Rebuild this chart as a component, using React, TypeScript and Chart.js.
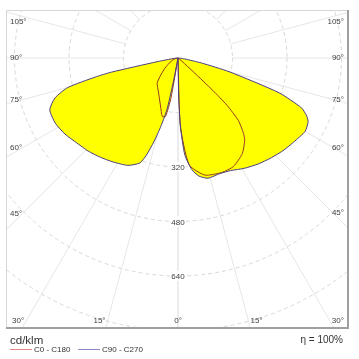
import React, { useEffect, useRef } from 'react';
import { Chart, registerables } from 'chart.js';

Chart.register(...registerables);

// ---- Data (gamma angle in degrees from nadir, luminous intensity in cd/klm) ----
// C0 - C180 plane
const C180_GAMMA = [0, 8, 10, 12, 15, 20, 30, 40, 50, 60, 70, 80, 90];
const C180_CD = [0, 0, 120, 175, 178, 150, 115, 95, 55, 30, 15, 5, 0];
const C0_GAMMA = [0, 2, 6, 13, 21, 27, 34, 39, 41, 44, 46, 47, 48, 50, 55, 60, 70, 90];
const C0_CD = [0, 200, 316, 353, 360, 358, 338, 311, 293, 255, 200, 140, 60, 15, 3, 0, 0, 0];
// C90 - C270 plane
const C270_GAMMA = [0, 10, 11, 12, 14, 16, 18, 20, 25, 32, 38, 44, 50, 56, 62, 68, 72, 75, 77, 78, 80, 85, 90];
const C270_CD = [0, 0, 60, 150, 205, 255, 300, 328, 348, 360, 370, 380, 388, 400, 408, 406, 380, 335, 250, 200, 60, 10, 0];
const C90_GAMMA = [0, 1, 2, 4, 7, 10, 14, 20, 25, 31, 37, 43, 49, 54, 60, 64, 66, 68, 71, 75, 78, 82, 86, 90];
const C90_CD = [0, 120, 200, 285, 330, 352, 364, 361, 365, 378, 390, 401, 412, 420, 431, 425, 412, 391, 314, 155, 70, 20, 5, 0];

const SERIES_NAMES = ['C0 - C180', 'C90 - C270'];
const RING_VALUES = [160, 320, 480, 640, 800, 960];
const LABELLED_RINGS = [320, 480, 640];
const ANGLE_TICKS = [0, 15, 30, 45, 60, 75, 90, 105];
const RADIAL_ANGLES = [0, 15, 30, 45, 60, 75, 90, 105, 120, 135, 150, 165, 180];
const UNIT_LABEL = 'cd/klm';
const EFFICIENCY_LABEL = '\u03B7 = 100%';

// visible window of the diagram (cd/klm, origin = luminaire)
const X_MIN = -505;
const X_MAX = 502;
const Y_MIN = -796;
const Y_MAX = 141;

const FONT = '"Liberation Sans", Arial, sans-serif';
const FILL = '#ffff00';
const LINE_C0 = '#9c3b22';
const LINE_C90 = '#4b3f7f';
const LEGEND_C0 = '#e58a8a';
const LEGEND_C90 = '#8a8ac8';

const rad = (d: number) => (d * Math.PI) / 180;

function buildCurve(leftG: number[], leftI: number[], rightG: number[], rightI: number[]) {
  const pts: { x: number; y: number }[] = [];
  for (let i = leftG.length - 1; i >= 0; i--) {
    const g = rad(leftG[i]);
    pts.push({ x: -leftI[i] * Math.sin(g), y: -leftI[i] * Math.cos(g) });
  }
  for (let i = 0; i < rightG.length; i++) {
    const g = rad(rightG[i]);
    pts.push({ x: rightI[i] * Math.sin(g), y: -rightI[i] * Math.cos(g) });
  }
  return pts;
}

const gridPlugin = {
  id: 'photometricGrid',
  beforeDraw(chart: any) {
    const { ctx, chartArea: a, scales } = chart;
    const xs = scales.x;
    const ys = scales.y;
    const cx = xs.getPixelForValue(0);
    const cy = ys.getPixelForValue(0);
    const unit = xs.getPixelForValue(1000) - cx; // px per 1000 cd
    ctx.save();
    ctx.fillStyle = '#ffffff';
    ctx.fillRect(0, 0, chart.width, chart.height);
    ctx.beginPath();
    ctx.rect(a.left, a.top, a.right - a.left, a.bottom - a.top);
    ctx.clip();
    // radial lines
    ctx.strokeStyle = '#e6e6e6';
    ctx.lineWidth = 1;
    ctx.setLineDash([]);
    const r0 = (RING_VALUES[0] * unit) / 1000;
    for (const ang of RADIAL_ANGLES) {
      for (const s of [-1, 1]) {
        const sx = s * Math.sin(rad(ang));
        const sy = Math.cos(rad(ang));
        ctx.beginPath();
        ctx.moveTo(cx + sx * r0, cy + sy * r0);
        ctx.lineTo(cx + sx * 1000, cy + sy * 1000);
        ctx.stroke();
      }
    }
    // rings
    ctx.strokeStyle = '#d9d9d9';
    ctx.setLineDash([4, 3]);
    for (const v of RING_VALUES) {
      ctx.beginPath();
      ctx.arc(cx, cy, (v * unit) / 1000, 0, Math.PI * 2);
      ctx.stroke();
    }
    ctx.setLineDash([]);
    // ring labels
    ctx.font = `8px ${FONT}`;
    ctx.textAlign = 'center';
    ctx.textBaseline = 'middle';
    for (const v of LABELLED_RINGS) {
      const y = ys.getPixelForValue(-v);
      const t = String(v);
      const w = ctx.measureText(t).width;
      ctx.fillStyle = '#ffffff';
      ctx.fillRect(cx - w / 2 - 1, y - 5, w + 2, 10);
      ctx.fillStyle = '#404040';
      ctx.fillText(t, cx, y + 1);
    }
    ctx.restore();
  },
  afterDraw(chart: any) {
    const { ctx, chartArea: a, scales } = chart;
    const cx = scales.x.getPixelForValue(0);
    const cy = scales.y.getPixelForValue(0);
    ctx.save();
    // frame
    ctx.strokeStyle = '#d6d6d6';
    ctx.lineWidth = 1;
    ctx.beginPath();
    ctx.moveTo(a.left + 0.5, a.bottom);
    ctx.lineTo(a.left + 0.5, a.top + 0.5);
    ctx.lineTo(a.right, a.top + 0.5);
    ctx.stroke();
    ctx.strokeStyle = '#a0a0a0';
    ctx.lineWidth = 2;
    ctx.beginPath();
    ctx.moveTo(a.right - 1, a.top);
    ctx.lineTo(a.right - 1, a.bottom - 1);
    ctx.lineTo(a.left, a.bottom - 1);
    ctx.stroke();

    // angle labels
    ctx.font = `8px ${FONT}`;
    ctx.fillStyle = '#404040';
    ctx.textBaseline = 'middle';
    const labelY = a.bottom - 8;
    for (const ang of ANGLE_TICKS) {
      for (const s of [-1, 1]) {
        if (ang === 0 && s === 1) continue;
        const text = `${ang}\u00B0`;
        const sn = Math.sin(rad(ang));
        const cs = Math.cos(rad(ang));
        const sideX = s < 0 ? a.left + 16 : a.right - 16;
        const tSide = sn > 1e-6 ? Math.abs(sideX - cx) / sn : Infinity;
        const tBottom = cs > 1e-6 ? (labelY - cy) / cs : Infinity;
        if (tSide < tBottom) {
          let y = cy + tSide * cs;
          y = Math.max(y, a.top + 12);
          ctx.textAlign = s < 0 ? 'left' : 'right';
          ctx.fillText(text, s < 0 ? a.left + 4 : a.right - 5, y);
        } else {
          const x = cx + s * tBottom * sn;
          if (ang === 0) {
            ctx.textAlign = 'center';
            ctx.fillText(text, x, labelY);
          } else {
            ctx.textAlign = s < 0 ? 'right' : 'left';
            ctx.fillText(text, x + s * 2, labelY);
          }
        }
      }
    }

    // unit + efficiency
    ctx.fillStyle = '#333333';
    ctx.textAlign = 'left';
    ctx.font = `11.5px ${FONT}`;
    ctx.fillText(UNIT_LABEL, a.left + 4, a.bottom + 12);
    ctx.textAlign = 'right';
    ctx.font = `10px ${FONT}`;
    ctx.fillText(EFFICIENCY_LABEL, a.right - 6, a.bottom + 11);

    // legend
    const ly = a.bottom + 20.5;
    ctx.font = `8px ${FONT}`;
    ctx.textAlign = 'left';
    ctx.lineWidth = 1;
    ctx.strokeStyle = LEGEND_C0;
    ctx.beginPath();
    ctx.moveTo(a.left + 4, ly);
    ctx.lineTo(a.left + 26, ly);
    ctx.stroke();
    ctx.fillStyle = '#333333';
    ctx.fillText(SERIES_NAMES[0], a.left + 28, ly);
    ctx.strokeStyle = LEGEND_C90;
    ctx.beginPath();
    ctx.moveTo(a.left + 72, ly);
    ctx.lineTo(a.left + 94, ly);
    ctx.stroke();
    ctx.fillText(SERIES_NAMES[1], a.left + 96, ly);
    ctx.restore();
  },
};

export default function App() {
  const canvasRef = useRef<HTMLCanvasElement | null>(null);

  useEffect(() => {
    const canvas = canvasRef.current;
    if (!canvas) return;
    const outer = buildCurve(C270_GAMMA, C270_CD, C90_GAMMA, C90_CD);
    const inner = buildCurve(C180_GAMMA, C180_CD, C0_GAMMA, C0_CD);
    const chart = new Chart(canvas, {
      type: 'scatter',
      data: {
        datasets: [
          {
            label: SERIES_NAMES[1],
            data: outer,
            showLine: true,
            borderColor: LINE_C90,
            borderWidth: 1,
            backgroundColor: FILL,
            fill: 'shape',
            pointRadius: 0,
            tension: 0.2,
          },
          {
            label: SERIES_NAMES[0],
            data: inner,
            showLine: true,
            borderColor: LINE_C0,
            borderWidth: 1,
            backgroundColor: FILL,
            fill: 'shape',
            pointRadius: 0,
            tension: 0.2,
          },
        ],
      },
      options: {
        animation: false,
        responsive: false,
        devicePixelRatio: 1,
        layout: { padding: { left: 6, top: 10, right: 10, bottom: 30 } },
        scales: {
          x: { type: 'linear', min: X_MIN, max: X_MAX, display: false },
          y: { type: 'linear', min: Y_MIN, max: Y_MAX, display: false },
        },
        plugins: {
          legend: { display: false },
          tooltip: { enabled: false },
          filler: { drawTime: 'beforeDatasetsDraw' },
        } as any,
        events: [],
      },
      plugins: [gridPlugin],
    } as any);
    return () => chart.destroy();
  }, []);

  return (
    <div style={{ position: 'fixed', left: 0, top: 0, width: 359, height: 359, background: '#ffffff' }}>
      <canvas ref={canvasRef} width={359} height={359} style={{ display: 'block', width: 359, height: 359 }} />
    </div>
  );
}
